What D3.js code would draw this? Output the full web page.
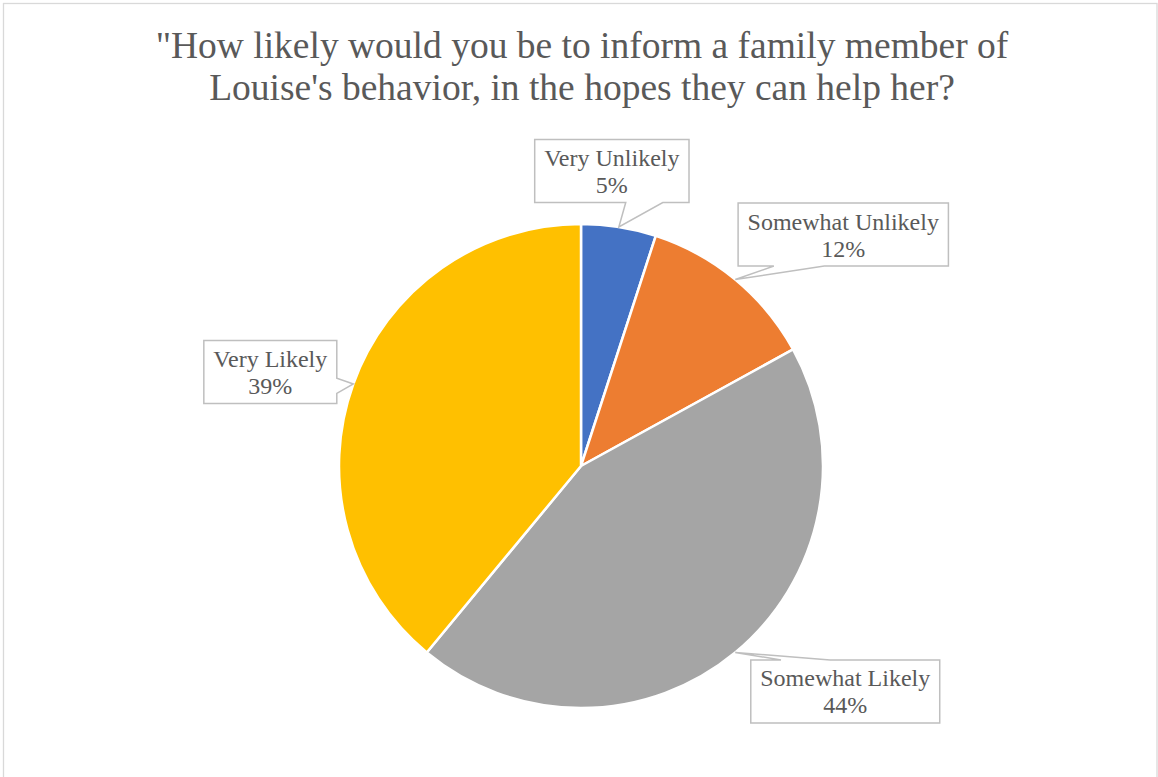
<!DOCTYPE html>
<html>
<head>
<meta charset="utf-8">
<script src="https://cdn.jsdelivr.net/npm/d3@7"></script>
<style>
  html, body { margin: 0; padding: 0; background: #fff; }
  svg { display: block; }
</style>
</head>
<body>
<svg id="chart" width="1158" height="777"></svg>
<script>
// Survey responses
const categories = ["Very Unlikely", "Somewhat Unlikely", "Somewhat Likely", "Very Likely"];
const values = [5, 12, 44, 39];
const colors = ["#4472C4", "#ED7D31", "#A5A5A5", "#FFC000"];
const titleLines = ["\"How likely would you be to inform a family member of",
                    "Louise's behavior, in the hopes they can help her?"];

// Callout placement: box centre offset from the slice anchor, the box side
// that carries the pointer, and where the pointer base sits along that side.
const callouts = [
  { dx: -7,  dy: -56, side: "bottom", b0: 0.59, b1: 0.83 },
  { dx: 108, dy: -45, side: "bottom", b0: 0.17, b1: 0.41 },
  { dx: 110, dy: 39,  side: "top",    b0: 0.16, b1: 0.42 },
  { dx: -83, dy: -12, side: "right",  b0: 0.60, b1: 0.84 }
];

const W = 1158, H = 777;
const cx = 581, cy = 466, R = 242;
const svg = d3.select("#chart");
const font = "'Liberation Serif', 'Times New Roman', serif";
const textColor = "#595959";

// chart area frame
svg.append("rect")
  .attr("x", 3.5).attr("y", 3.5)
  .attr("width", W - 4.5).attr("height", H + 10)
  .attr("fill", "#fff").attr("stroke", "#d9d9d9").attr("stroke-width", 1.3);

// title
svg.append("text")
  .attr("text-anchor", "middle")
  .attr("font-family", font).attr("font-size", 37.5)
  .attr("fill", textColor)
  .selectAll("tspan").data(titleLines).join("tspan")
  .attr("x", 582).attr("y", (d, i) => 58 + i * 42)
  .text(d => d);

const data = categories.map((c, i) => ({ name: c, value: values[i], color: colors[i], layout: callouts[i] }));

const pie = d3.pie().value(d => d.value).sort(null);
const arc = d3.arc().innerRadius(0).outerRadius(R);
const arcs = pie(data);

const g = svg.append("g").attr("transform", `translate(${cx},${cy})`);
g.selectAll("path.slice").data(arcs).join("path")
  .attr("class", "slice")
  .attr("d", arc)
  .attr("fill", d => d.data.color)
  .attr("stroke", "#fff").attr("stroke-width", 2.5)
  .attr("stroke-linejoin", "round");

// callout labels
const total = d3.sum(values);
const labelG = svg.append("g");
arcs.forEach(a => {
  const mid = (a.startAngle + a.endAngle) / 2;
  const tx = cx + R * Math.sin(mid);
  const ty = cy - R * Math.cos(mid);
  const L = a.data.layout;
  const bx = tx + L.dx, by = ty + L.dy;

  const grp = labelG.append("g");
  const lines = [a.data.name, Math.round(a.data.value / total * 100) + "%"];
  const txt = grp.append("text")
    .attr("font-family", font).attr("font-size", 24)
    .attr("fill", textColor).attr("text-anchor", "middle");
  txt.selectAll("tspan").data(lines).join("tspan")
    .attr("x", bx).attr("y", (d, i) => by - 5 + i * 27)
    .text(d => d);

  const tw = d3.max(txt.selectAll("tspan").nodes(), n => n.getComputedTextLength());
  const bw = tw + 19, bh = 63;
  const x0 = bx - bw / 2, x1 = bx + bw / 2, y0 = by - bh / 2, y1 = by + bh / 2;

  let pts;
  if (L.side === "bottom") {
    const p0 = x0 + bw * L.b0, p1 = x0 + bw * L.b1;
    pts = [[x0, y0], [x1, y0], [x1, y1], [p1, y1], [tx, ty], [p0, y1], [x0, y1]];
  } else if (L.side === "top") {
    const p0 = x0 + bw * L.b0, p1 = x0 + bw * L.b1;
    pts = [[x0, y0], [p0, y0], [tx, ty], [p1, y0], [x1, y0], [x1, y1], [x0, y1]];
  } else if (L.side === "right") {
    const p0 = y0 + bh * L.b0, p1 = y0 + bh * L.b1;
    pts = [[x0, y0], [x1, y0], [x1, p0], [tx, ty], [x1, p1], [x1, y1], [x0, y1]];
  } else {
    const p0 = y0 + bh * L.b0, p1 = y0 + bh * L.b1;
    pts = [[x0, y0], [x1, y0], [x1, y1], [x0, y1], [x0, p1], [tx, ty], [x0, p0]];
  }
  grp.insert("path", "text")
    .attr("d", d3.line()(pts) + "Z")
    .attr("fill", "#fff").attr("stroke", "#bfbfbf").attr("stroke-width", 1.5);
});
</script>
</body>
</html>
